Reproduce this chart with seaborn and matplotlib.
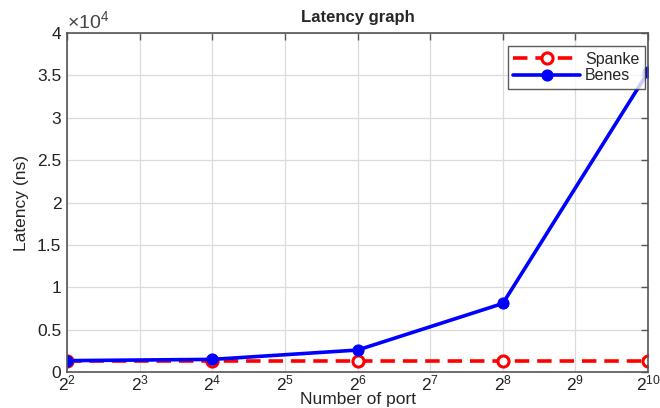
import numpy as np
import pandas as pd
import matplotlib
matplotlib.use("Agg")
import matplotlib.pyplot as plt
import seaborn as sns
from matplotlib.ticker import FixedLocator, FuncFormatter

ports = [4, 16, 64, 256, 1024]
spanke = [1300, 1300, 1300, 1300, 1300]
benes = [1350, 1500, 2600, 8100, 35400]
y_ticks = [0, 0.5, 1, 1.5, 2, 2.5, 3, 3.5, 4]

sns.set_theme(style="white")
plt.rcParams["font.family"] = ["Liberation Sans", "DejaVu Sans"]
plt.rcParams["mathtext.fontset"] = "custom"
plt.rcParams["mathtext.rm"] = "Liberation Sans"
plt.rcParams["mathtext.it"] = "Liberation Sans:italic"
plt.rcParams["mathtext.bf"] = "Liberation Sans:bold"

df = pd.DataFrame({
    "ports": ports * 2,
    "latency": spanke + benes,
    "switch": ["Spanke"] * len(ports) + ["Benes"] * len(ports),
})

fig = plt.figure(figsize=(6.6, 4.08), dpi=100)
ax = fig.add_axes([0.1015, 0.088, 0.8805, 0.831])

sns.lineplot(data=df[df.switch == "Spanke"], x="ports", y="latency", ax=ax,
             color="#ff0000", linewidth=2.6, linestyle=(0, (4, 2.2)),
             marker="o", markersize=8, markerfacecolor="white",
             markeredgecolor="#ff0000", markeredgewidth=2.2, label="Spanke")
sns.lineplot(data=df[df.switch == "Benes"], x="ports", y="latency", ax=ax,
             color="#0000ff", linewidth=2.6, marker="o", markersize=8,
             markerfacecolor="#0000ff", markeredgecolor="#0000ff",
             label="Benes")

ax.set_xscale("log", base=2)
ax.set_xlim(4, 1024)
ax.set_ylim(0, 40000)
ax.xaxis.set_major_locator(FixedLocator([2 ** k for k in range(2, 11)]))
ax.xaxis.set_minor_locator(FixedLocator([]))
ax.xaxis.set_major_formatter(FuncFormatter(lambda v, p: r"$\mathregular{2^{%d}}$" % round(np.log2(v))))
ax.yaxis.set_major_locator(FixedLocator([t * 1e4 for t in y_ticks]))
ax.yaxis.set_major_formatter(FuncFormatter(lambda v, p: "%g" % (v / 1e4)))

ax.grid(True, color="#dcdcdc", linewidth=0.9)
ax.set_axisbelow(True)
for s in ax.spines.values():
    s.set_color("#555555")
    s.set_linewidth(1.2)
ax.tick_params(direction="in", length=5, width=1, color="#555555",
               top=True, right=True, labelsize=12.5, labelcolor="#222222")
ax.tick_params(axis="x", pad=1)
ax.tick_params(axis="y", pad=4)

ax.text(0.0, 1.003, r"$\mathregular{\times10^{4}}$", transform=ax.transAxes,
        fontsize=14, color="#444444", ha="left", va="bottom")

ax.set_title("Latency graph", fontsize=12, fontweight="bold", pad=8)
ax.set_xlabel("Number of port", fontsize=12.5, labelpad=-1)
ax.set_ylabel("Latency (ns)", fontsize=12.5, labelpad=6)

leg = ax.legend(loc="upper right", bbox_to_anchor=(0.995, 0.961),
                fontsize=11.5, frameon=True, fancybox=False,
                handlelength=4.2, borderaxespad=0, handletextpad=0.3,
                borderpad=0.35, labelspacing=0.1)
leg.get_frame().set_edgecolor("#333333")
leg.get_frame().set_linewidth(1.0)

fig.savefig("out.png", dpi=100, facecolor="white")
